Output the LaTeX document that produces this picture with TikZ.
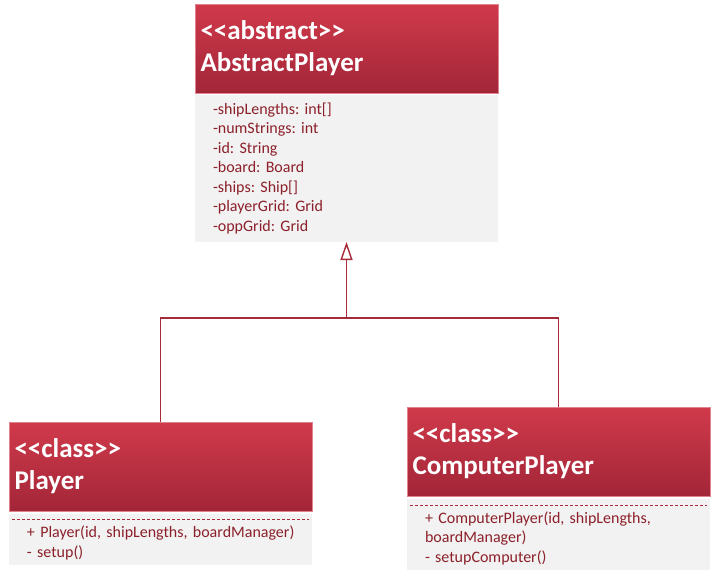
\documentclass[tikz,border=0pt]{standalone}
\usepackage{fontspec}
\setmainfont{Carlito}
\usepackage{tikz}
\usetikzlibrary{arrows.meta,calc,positioning,shapes}

\definecolor{headtop}{RGB}{208,58,75}
\definecolor{headbot}{RGB}{162,38,56}
\definecolor{headedge}{RGB}{226,130,142}
\definecolor{bodyfill}{RGB}{242,242,242}
\definecolor{linkred}{RGB}{166,42,58}
\definecolor{textred}{RGB}{140,32,42}

\newcommand{\stereo}[1]{<\kern0pt<#1>\kern0pt>}
\frenchspacing

\begin{document}
\begin{tikzpicture}[auto,>={Triangle[open,length=18pt,width=12pt]}]
	\tikzstyle{head} = [rectangle, outer sep=0pt, draw=headedge, line width=0.8pt, top color=headtop, bottom color=headbot, minimum width=303pt, minimum height=89pt, text width=292pt, inner xsep=5.5pt, align=left, text=white, font=\fontsize{27}{32}\selectfont\bfseries]
	\tikzstyle{body} = [rectangle, outer sep=0pt, fill=bodyfill, minimum width=303pt, text width=285pt, inner xsep=9pt, align=left, text=textred, font=\fontsize{16}{19.5}\selectfont, execute at begin node={\leftskip=9pt}]
	\tikzstyle{cbody} = [body, execute at begin node={\leftskip=9pt\rule{0pt}{19pt}}]
	\tikzstyle{link} = [draw=linkred, line width=1.4pt]
	\tikzstyle{sep} = [draw=linkred, line width=0.7pt, dash pattern=on 3pt off 2pt]
	
	\useasboundingbox (0pt,0pt) rectangle (714pt,-576pt);
	
	\node [head, anchor=north west] (absHead) at (195pt,-4pt) {\stereo{abstract}\\AbstractPlayer};
	\node [body, minimum height=147pt, below = 2pt of absHead] (absBody) {-shipLengths: int[]\\-numStrings: int\\-id: String\\-board: Board\\-ships: Ship[]\\-playerGrid: Grid\\-oppGrid: Grid};
	
	\node [head, anchor=north west] (plHead) at (9pt,-422pt) {\stereo{class}\\Player};
	\node [cbody, minimum height=51pt, below = 3pt of plHead] (plBody) {+ Player(id, shipLengths, boardManager)\\- setup()};
	
	\node [head, anchor=north west] (cpHead) at (407pt,-407pt) {\stereo{class}\\ComputerPlayer};
	\node [cbody, minimum height=71pt, below = 3pt of cpHead] (cpBody) {+ ComputerPlayer(id, shipLengths,\\boardManager)\\- setupComputer()};
	
	\node [coordinate, below = 76pt of absBody] (joint){};
	
	\draw [sep] ([shift={(3pt,-5pt)}]plBody.north west) -- ([shift={(-3pt,-5pt)}]plBody.north east);
	\draw [sep] ([shift={(3pt,-6pt)}]cpBody.north west) -- ([shift={(-3pt,-6pt)}]cpBody.north east);
	\draw [link] (plHead.north) |- (joint);
	\draw [link] (cpHead.north) |- (joint);
	\draw [link, ->] (joint) -- (absBody.south);
	
\end{tikzpicture}
\end{document}
